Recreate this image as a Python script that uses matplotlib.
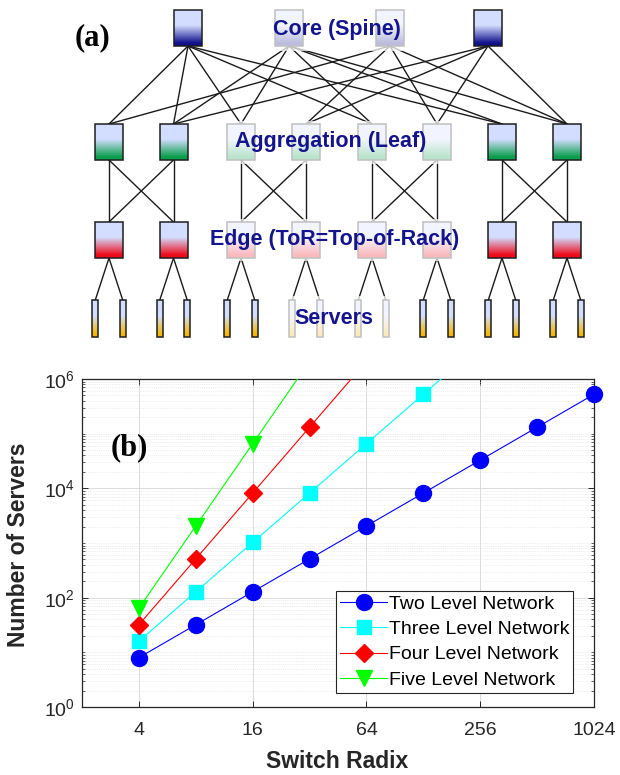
import numpy as np
import matplotlib
matplotlib.use("Agg")
import matplotlib.pyplot as plt
from matplotlib.ticker import FixedLocator, FixedFormatter, NullLocator, NullFormatter

plt.rcParams['font.family'] = ['Liberation Sans', 'DejaVu Sans']
plt.rcParams['mathtext.fontset'] = 'custom'
plt.rcParams['mathtext.rm'] = 'Liberation Sans'
plt.rcParams['mathtext.it'] = 'Liberation Sans:italic'
plt.rcParams['mathtext.bf'] = 'Liberation Sans:bold'

# ---------------- data (panel b) ----------------
radix_two = [4, 8, 16, 32, 64, 128, 256, 512, 1024]
servers_two = [8, 32, 128, 512, 2048, 8192, 32768, 131072, 524288]
radix_three = [4, 8, 16, 32, 64, 128, 256]
servers_three = [16, 128, 1024, 8192, 65536, 524288, 4194304]
radix_four = [4, 8, 16, 32, 64]
servers_four = [32, 512, 8192, 131072, 2097152]
radix_five = [4, 8, 16, 32]
servers_five = [64, 2048, 65536, 2097152]
series_labels = ['Two Level Network', 'Three Level Network',
                 'Four Level Network', 'Five Level Network']
x_ticks = [4, 16, 64, 256, 1024]
x_tick_labels = ['4', '16', '64', '256', '1024']
y_ticks = [1, 1e2, 1e4, 1e6]
y_tick_labels = [r'$\mathregular{10^{0}}$', r'$\mathregular{10^{2}}$',
                 r'$\mathregular{10^{4}}$', r'$\mathregular{10^{6}}$']

# ---------------- diagram (panel a) structure ----------------
core_x = [188, 289, 390, 488]
pod_x = [109, 173.5, 241, 306, 372, 437, 502, 567]
core_links = [  # (core index, aggregation index)
    (0, 0), (0, 1), (0, 2), (0, 4), (0, 6),
    (1, 1), (1, 2), (1, 4), (1, 6), (1, 7),
    (2, 0), (2, 3), (2, 5), (2, 7),
    (3, 1), (3, 3), (3, 5), (3, 7),
]
layer_labels = ['Core (Spine)', 'Aggregation (Leaf)', 'Edge (ToR=Top-of-Rack)', 'Servers']

W, H = 620, 775
fig = plt.figure(figsize=(W / 100, H / 100), dpi=100)

# ---- panel (a) ----
TOP_H = 345
axd = fig.add_axes([0, 1 - TOP_H / H, 1, TOP_H / H])
axd.set_xlim(0, W)
axd.set_ylim(TOP_H, 0)
axd.axis('off')

light = np.array([0.83, 0.87, 1.0])
dark_core = np.array([0.07, 0.07, 0.55])
dark_agg = np.array([0.04, 0.62, 0.30])
dark_edge = np.array([0.93, 0.04, 0.10])
dark_srv = np.array([0.96, 0.72, 0.02])


def grad_box(ax, cx, top, w, h, dark, z=3):
    t = np.linspace(0, 1, 64)
    f = np.clip((t - 0.42) / 0.50, 0, 1)[:, None]
    img = light[None, :] * (1 - f) + dark[None, :] * f
    img = img[:, None, :].repeat(2, axis=1)
    ax.imshow(img, extent=(cx - w / 2, cx + w / 2, top + h, top), aspect='auto',
              interpolation='bilinear', zorder=z)
    ax.add_patch(plt.Rectangle((cx - w / 2, top), w, h, fill=False,
                               ec='#1e1e1e', lw=1.1, zorder=z + 0.1))


BW, BH = 28, 36
core_top, agg_top, edge_top, srv_top = 10, 124, 222, 300
SW, SH, SOFF = 6, 37, 13.7
lc = '#1a1a1a'
lw = 1.0

for ci, ai in core_links:
    axd.plot([core_x[ci], pod_x[ai]], [core_top + BH, agg_top], color=lc, lw=lw, zorder=2)
for p in range(4):
    a0, a1 = pod_x[2 * p], pod_x[2 * p + 1]
    for xa in (a0, a1):
        for xe in (a0, a1):
            axd.plot([xa, xe], [agg_top + BH, edge_top], color=lc, lw=lw, zorder=2)
for xe in pod_x:
    for s in (-SOFF, SOFF):
        axd.plot([xe, xe + s], [edge_top + BH, srv_top], color=lc, lw=lw, zorder=2)

for x in core_x:
    grad_box(axd, x, core_top, BW, BH, dark_core)
for x in pod_x:
    grad_box(axd, x, agg_top, BW, BH, dark_agg)
    grad_box(axd, x, edge_top, BW, BH, dark_edge)
    for s in (-SOFF, SOFF):
        grad_box(axd, x + s, srv_top, SW, SH, dark_srv)

# label backgrounds (semi-transparent white) and labels
label_boxes = [(255, 7, 425, 51), (217, 121, 457, 164), (193, 219, 487, 261), (278, 296, 397, 340)]
label_pos = [(337, 30), (331, 141), (335, 240), (334, 318)]
for (x0, y0, x1, y1), (tx, ty), txt in zip(label_boxes, label_pos, layer_labels):
    axd.add_patch(plt.Rectangle((x0, y0), x1 - x0, y1 - y0, fc='white', ec='none',
                                alpha=0.72, zorder=5))
    axd.text(tx, ty, txt, ha='center', va='center', color='#14148c',
             fontsize=15.5, fontweight='bold', zorder=6)

fig.text(93 / W, 1 - 38 / H, '(a)', ha='center', va='center', fontsize=22,
         fontweight='bold', family=['Liberation Serif', 'DejaVu Serif'])

# ---- panel (b) ----
L, R, T, B = 82, 594, 379, 707
ax = fig.add_axes([L / W, 1 - B / H, (R - L) / W, (B - T) / H])
ax.set_xscale('log', base=2)
ax.set_yscale('log')
YMAX = 1e6
ax.set_xlim(2, 1024)
ax.set_ylim(1, YMAX)

series = [
    (radix_two, servers_two, 'o', '#0000ff', 11.5),
    (radix_three, servers_three, 's', '#00ffff', 9.5),
    (radix_four, servers_four, 'D', '#ff0000', 9.5),
    (radix_five, servers_five, 'v', '#00ff00', 11),
]
for (xs, ys, mk, col, ms), lab in zip(series, series_labels):
    ax.plot(xs, ys, '-', color=col, lw=0.8, zorder=3)
    inside = [i for i, v in enumerate(ys) if v <= YMAX]
    ax.plot([xs[i] for i in inside], [ys[i] for i in inside], ls='none', marker=mk,
            color=col, ms=ms, zorder=4, clip_on=False)
    ax.plot([], [], '-', marker=mk, color=col, lw=0.8, ms=ms, label=lab)

ax.xaxis.set_major_locator(FixedLocator(x_ticks))
ax.xaxis.set_major_formatter(FixedFormatter(x_tick_labels))
ax.xaxis.set_minor_locator(NullLocator())
ax.yaxis.set_major_locator(FixedLocator(y_ticks))
ax.yaxis.set_major_formatter(FixedFormatter(y_tick_labels))
minor_y = [m * 10.0 ** e for e in range(0, 6) for m in range(1, 10) if not (m == 1 and e % 2 == 0)]
ax.yaxis.set_minor_locator(FixedLocator(minor_y))
ax.yaxis.set_minor_formatter(NullFormatter())

ax.grid(True, which='major', color='#d6d6d6', lw=0.6, ls='-')
ax.grid(True, which='minor', axis='y', color='#e0e0e0', lw=0.5, ls=':')
ax.set_axisbelow(True)

axc = '#262626'
for s in ax.spines.values():
    s.set_color(axc)
    s.set_linewidth(0.9)
ax.tick_params(which='both', direction='in', top=True, right=True, colors=axc,
               labelcolor=axc, labelsize=14)
ax.tick_params(which='major', length=4, width=0.7)
ax.tick_params(which='minor', length=2.2, width=0.5)
ax.tick_params(axis='x', pad=11)
ax.tick_params(axis='y', pad=5)

leg = ax.legend(loc='lower left', bbox_to_anchor=(0.497, 0.0436), fontsize=14,
                frameon=True, fancybox=False, framealpha=1, edgecolor=axc,
                handlelength=2.4, handletextpad=0.1, labelspacing=0.4,
                borderpad=0.2, borderaxespad=0)
leg.get_frame().set_linewidth(0.8)
leg.set_zorder(10)

fig.text(337.5 / W, 1 - 762 / H, 'Switch Radix', ha='center', va='center',
         fontsize=16.5, fontweight='bold', color=axc)
fig.text(19 / W, 1 - 545 / H, 'Number of Servers', ha='center', va='center',
         rotation=90, fontsize=16.5, fontweight='bold', color=axc)
fig.text(129 / W, 1 - 448 / H, '(b)', ha='center', va='center', fontsize=22,
         fontweight='bold', family=['Liberation Serif', 'DejaVu Serif'])

fig.savefig('out.png', dpi=100)
